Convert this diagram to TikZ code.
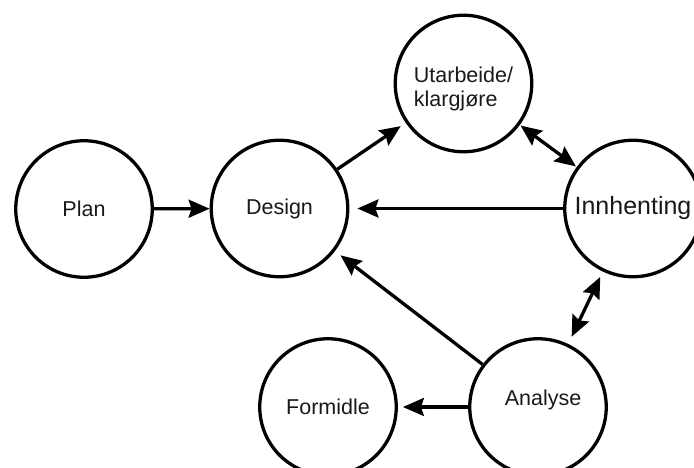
\documentclass[tikz,border=0pt]{standalone}
\usepackage{fontspec}
\setmainfont{Liberation Sans}
\usetikzlibrary{arrows.meta}
\begin{document}
\begin{tikzpicture}[x=1pt,y=1pt,
  circ/.style={circle,draw=black,line width=3.3pt,minimum size=136.5pt,inner sep=0pt,
    font=\fontsize{21.5}{24}\selectfont,text=black!90},
  arr/.style={line width=3.3pt,-{Stealth[length=21pt,width=18pt,inset=3pt]}},
  darr/.style={line width=3.3pt,{Stealth[length=21pt,width=18pt,inset=3pt]}-{Stealth[length=21pt,width=18pt,inset=3pt]}}]
\useasboundingbox (0,0) rectangle (694,-468);
\clip (0,0) rectangle (694,-468);
\node[circ] (plan) at (84,-209) {Plan};
\node[circ] (design) at (279.5,-208.5) {Design};
\node[circ] (utarb) at (463.5,-83.5) {};
\node[align=left,inner sep=0pt,font=\fontsize{21.5}{24}\selectfont,text=black!90] (utarbtxt) at ([yshift=-5pt]utarb.center) {Utarbeide/\\klargjøre};
\node[circ,font=\fontsize{25}{30}\selectfont] (innh) at (633,-208.5) {Innhenting};
\node[circ] (analyse) at (538,-407) {\hspace*{10pt}\raisebox{7pt}[\height][\depth]{Analyse}};
\node[circ] (formidle) at (328,-407) {Formidle};
\draw[arr] (plan) -- (design);
\draw[arr,shorten >=6pt] (design) -- (utarb);
\draw[arr,shorten >=8pt] (innh) -- (design);
\draw[darr,shorten <=1pt,shorten >=1pt] (utarb) -- (innh);
\draw[arr,shorten >=7pt] (analyse) -- (design);
\draw[darr,shorten <=8pt,shorten >=6pt] (analyse) -- (innh);
\draw[arr,shorten >=5pt] (analyse) -- (formidle);
\end{tikzpicture}
\end{document}
